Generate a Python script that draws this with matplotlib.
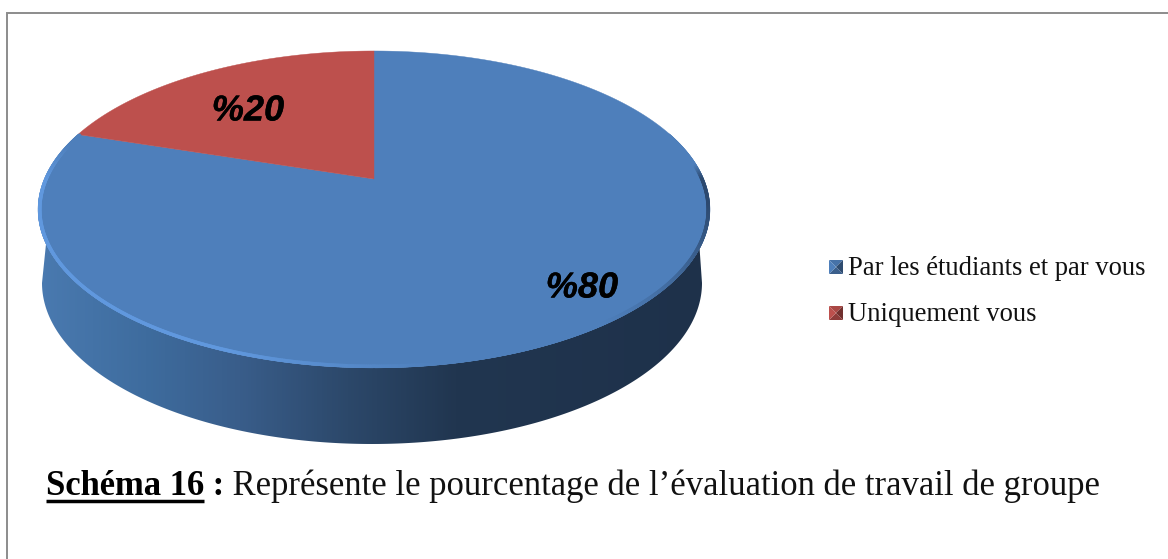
import matplotlib
matplotlib.use('Agg')
import matplotlib.patheffects as pe
import matplotlib.pyplot as plt
import numpy as np
from matplotlib.collections import LineCollection
from matplotlib.colors import LinearSegmentedColormap, to_rgb
from matplotlib.patches import Polygon

categories = ['Par les étudiants et par vous', 'Uniquement vous']
values = [80, 20]
slice_colors = ['#4E7FBB', '#BD504D']
title_bold = 'Schéma 16'
title_colon = ' :'
title_rest = ' Représente le pourcentage de l’évaluation de travail de groupe'

SERIF = 'Liberation Serif'
W, H = 1168, 559
CX, CY = 374.0, 179.0


def project(angle):
    # angle clockwise from 12 o'clock, perspective view of the pie top
    u, v = np.sin(angle), np.cos(angle)
    w = 1 + 0.192 * v
    return CX + 329.7 * u / w, CY - 152.6 * v / w


def lower_rim(angle):
    return 372 + 330 * np.sin(angle), 283 - 161 * np.cos(angle)


def ramp(a, lo, hi):
    return np.clip((a - lo) / (hi - lo), 0, 1)


fig = plt.figure(figsize=(W / 100, H / 100), dpi=100)
ax = fig.add_axes([0, 0, 1, 1])
ax.set_xlim(0, W)
ax.set_ylim(H, 0)
ax.axis('off')

# frame, only top and left are in the crop
ax.plot([7, 7, W], [H, 13, 13], color='#8c8c8c', lw=1.4, solid_joinstyle='miter')

# side of the pie with horizontal gradient
t_top = np.linspace(0.46 * np.pi, 1.54 * np.pi, 300)
t_low = np.linspace(1.5 * np.pi, 0.5 * np.pi, 300)
tx, ty = project(t_top)
lx, ly = lower_rim(t_low)
side_xy = np.column_stack([np.r_[tx, lx], np.r_[ty, ly]])
side = Polygon(side_xy, closed=True, fc='none', ec='none')
ax.add_patch(side)
side_cmap = LinearSegmentedColormap.from_list('side', [
    (0.00, (74 / 255, 122 / 255, 176 / 255)),
    (0.16, (62 / 255, 108 / 255, 158 / 255)),
    (0.30, (57 / 255, 93 / 255, 138 / 255)),
    (0.46, (44 / 255, 72 / 255, 106 / 255)),
    (0.62, (33 / 255, 54 / 255, 80 / 255)),
    (1.00, (30 / 255, 49 / 255, 74 / 255)),
])
grad = np.linspace(0, 1, 512).reshape(1, -1)
im = ax.imshow(grad, extent=[38, 711, 450, 190], cmap=side_cmap, aspect='auto', zorder=1)
im.set_clip_path(side)
ax.set_xlim(0, W)
ax.set_ylim(H, 0)

# pie top, slice angles come from the values
# red starts at 12 o'clock going anticlockwise, blue takes the rest clockwise
fracs = np.array(values) / sum(values)
starts = [0.0, -2 * np.pi * fracs[1]]
ends = [2 * np.pi * fracs[0], 0.0]
for start, end, col in zip(starts, ends, slice_colors):
    t = np.linspace(start, end, 400)
    x, y = project(t)
    xy = np.column_stack([np.r_[CX, x], np.r_[CY, y]])
    ax.add_patch(Polygon(xy, closed=True, fc=col, ec=col, lw=0.3, zorder=2))

# bevel along the edge: light on the lower left, dark on the far right
t = np.linspace(0.40 * np.pi, 1.60 * np.pi, 700)
ex, ey = project(t)
ex = 374 + (ex - 374) * 0.995
ey = 209.5 + (ey - 209.5) * 0.99
pts = np.column_stack([ex, ey])
segs = np.stack([pts[:-1], pts[1:]], axis=1)
base = np.array(to_rgb(slice_colors[0]))
light = np.array([96, 152, 222]) / 255
dark = np.array([30, 50, 78]) / 255
cols = []
for a in t[:-1]:
    amt_l = ramp(a, 0.95 * np.pi, 1.12 * np.pi) * (1 - ramp(a, 1.5 * np.pi, 1.58 * np.pi))
    amt_d = ramp(a, 0.47 * np.pi, 0.50 * np.pi) * (1 - ramp(a, 0.55 * np.pi, 0.8 * np.pi))
    cols.append(base + (light - base) * amt_l + (dark - base) * amt_d * 0.7)
ax.add_collection(LineCollection(segs, colors=cols, linewidths=2.6, zorder=3, capstyle='round'))

# data labels
label_pos = [(582, 288), (248, 111)]
for v, (lx_, ly_) in zip(values, label_pos):
    ax.text(lx_, ly_, '%{}'.format(v), family='Liberation Sans', weight='bold', style='italic',
            fontsize=26, ha='center', va='center', color='black', zorder=5,
            path_effects=[pe.withStroke(linewidth=0.25, foreground='black')])

# legend with the small bevelled squares
legend_y = [267, 313]
for name, col, y in zip(categories, slice_colors, legend_y):
    c = np.array(to_rgb(col))
    x0, x1, y0, y1 = 829, 843, y - 7, y + 7
    xm, ym = (x0 + x1) / 2, (y0 + y1) / 2
    tris = [
        ([(x0, y0), (x1, y0), (xm, ym)], c * 0.9),
        ([(x1, y0), (x1, y1), (xm, ym)], c * 0.6),
        ([(x0, y1), (x1, y1), (xm, ym)], c * 0.75),
        ([(x0, y0), (x0, y1), (xm, ym)], c),
    ]
    for tri, fc in tris:
        ax.add_patch(Polygon(tri, closed=True, fc=fc, ec='none', zorder=4))
    ax.text(848, y + 8, name, family=SERIF, fontsize=19.2, color='#111111', ha='left', va='baseline')

# caption, three runs placed one after the other
renderer = fig.canvas.get_renderer()
base_y = 495
x = 46
t1 = ax.text(x, base_y, title_bold, family=SERIF, weight='bold', fontsize=24.9, va='baseline', color='black')
x1 = t1.get_window_extent(renderer).x1
ax.plot([46, x1], [501, 501], color='black', lw=2.5, solid_capstyle='butt')
t2 = ax.text(x1, base_y, title_colon, family=SERIF, weight='bold', fontsize=24.9, va='baseline', color='black')
x2 = t2.get_window_extent(renderer).x1
ax.text(x2, base_y, title_rest, family=SERIF, fontsize=24.9, va='baseline', color='#111111')

fig.savefig('out.png', dpi=100, facecolor='white')
